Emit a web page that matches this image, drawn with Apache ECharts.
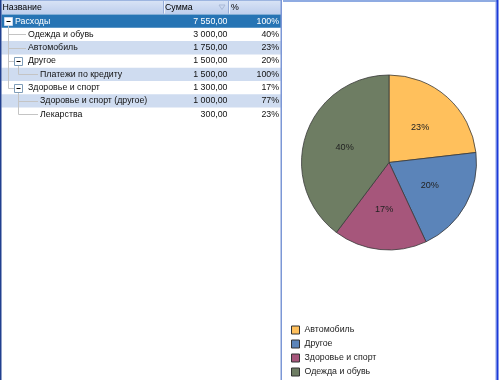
<!DOCTYPE html>
<html><head><meta charset="utf-8">
<script src="https://cdn.jsdelivr.net/npm/echarts@6/dist/echarts.min.js"></script>
<style>html,body{margin:0;padding:0;background:#fff}#c{width:500px;height:380px}</style>
</head><body><div id="c"></div>
<script>
const headerLabels = ['Название', 'Сумма', '%'];
const treeNames = ['Расходы', 'Одежда и обувь', 'Автомобиль', 'Другое', 'Платежи по кредиту', 'Здоровье и спорт', 'Здоровье и спорт (другое)', 'Лекарства'];
const treeLevels = [0, 1, 1, 1, 2, 1, 2, 2];
const treeSums = [7550, 3000, 1750, 1500, 1500, 1300, 1000, 300];
const treePercents = [100, 40, 23, 20, 100, 17, 77, 23];
const pieCategories = ['Автомобиль', 'Другое', 'Здоровье и спорт', 'Одежда и обувь'];
const pieValues = [1750, 1500, 1300, 3000];
const pieColors = ['#ffc05c', '#5b84b9', '#a6567b', '#6e7d63'];

const FS = 8.8;
const FAMILY = '"Liberation Sans", Arial, sans-serif';
const FONT = FS + 'px ' + FAMILY;
const headerH = 14.5, rowH = 13.3, tableRight = 281, colSumX = 163, colPctX = 228;
const boxX = l => 4 + 10 * l;
const textX = l => [15, 28, 40][l];
const rowY = i => headerH + i * rowH;
const rowCY = i => rowY(i) + rowH / 2;

function fmtSum(v) {
  const s = v.toFixed(2).split('.');
  return s[0].replace(/\B(?=(\d{3})+(?!\d))/g, ' ') + ',' + s[1];
}
const hasChildren = i => i + 1 < treeLevels.length && treeLevels[i + 1] > treeLevels[i];

const g = [];
// frame top band of right panel
g.push({type: 'rect', silent: true, shape: {x: 283, y: 0, width: 214, height: 2}, style: {fill: '#8fabe2'}});
// header
g.push({type: 'rect', silent: true, shape: {x: 0, y: 0, width: tableRight, height: headerH},
  style: {fill: new echarts.graphic.LinearGradient(0, 0, 0, 1, [{offset: 0, color: '#d9e4f6'}, {offset: 1, color: '#bccdec'}])}});
g.push({type: 'line', silent: true, shape: {x1: 0, y1: 0.5, x2: tableRight, y2: 0.5}, style: {stroke: '#9db5e0', lineWidth: 1}});
[colSumX, colPctX].forEach(x => {
  g.push({type: 'line', silent: true, shape: {x1: x + 0.5, y1: 1, x2: x + 0.5, y2: headerH - 1}, style: {stroke: '#95acd8', lineWidth: 1}});
  g.push({type: 'line', silent: true, shape: {x1: x + 1.5, y1: 1, x2: x + 1.5, y2: headerH - 1}, style: {stroke: '#eef3fb', lineWidth: 1}});
});
const hx = [2.5, colSumX + 2, colPctX + 3];
headerLabels.forEach((t, k) => {
  g.push({type: 'text', silent: true, x: hx[k], y: headerH / 2, style: {text: t, font: FONT, fill: '#000', textAlign: 'left', textVerticalAlign: 'middle'}});
});
g.push({type: 'polygon', silent: true, shape: {points: [[219, 5], [225, 5], [222, 9.5]]}, style: {fill: 'none', stroke: '#a9b9d6', lineWidth: 1}});

// rows
treeNames.forEach((name, i) => {
  const y = rowY(i), cy = rowCY(i), lv = treeLevels[i];
  const sel = i === 0;
  if (sel) g.push({type: 'rect', silent: true, shape: {x: 1.5, y: y, width: tableRight - 1.5, height: rowH}, style: {fill: '#2674b4'}});
  else if (i % 2 === 0) g.push({type: 'rect', silent: true, shape: {x: 1.5, y: y, width: tableRight - 1.5, height: rowH}, style: {fill: '#cfdcf0'}});
  const col = sel ? '#fff' : '#111';
  g.push({type: 'text', silent: true, x: textX(lv), y: cy, style: {text: name, font: FONT, fill: col, textAlign: 'left', textVerticalAlign: 'middle'}});
  g.push({type: 'text', silent: true, x: 227.5, y: cy, style: {text: fmtSum(treeSums[i]), font: FONT, fill: col, textAlign: 'right', textVerticalAlign: 'middle'}});
  g.push({type: 'text', silent: true, x: 279, y: cy, style: {text: treePercents[i] + '%', font: FONT, fill: col, textAlign: 'right', textVerticalAlign: 'middle'}});
});

// tree lines and boxes
const LINE = '#c4c4c4';
treeNames.forEach((name, i) => {
  const lv = treeLevels[i];
  if (lv > 0) {
    let p = i - 1;
    while (treeLevels[p] !== lv - 1) p--;
    const px = boxX(lv - 1) + 4.5;
    const cy = Math.round(rowCY(i)) + 0.5;
    const endX = hasChildren(i) ? boxX(lv) : textX(lv) - 2;
    g.push({type: 'line', silent: true, shape: {x1: px, y1: cy, x2: endX, y2: cy}, style: {stroke: LINE, lineWidth: 1}});
    let last = i;
    for (let j = i + 1; j < treeLevels.length && treeLevels[j] >= lv; j++) if (treeLevels[j] === lv) last = j;
    if (last === i) {
      g.push({type: 'line', silent: true, shape: {x1: px, y1: Math.round(rowCY(p)) + 4, x2: px, y2: cy}, style: {stroke: LINE, lineWidth: 1}});
    }
  }
});
treeNames.forEach((name, i) => {
  if (!hasChildren(i)) return;
  const lv = treeLevels[i];
  const bx = boxX(lv) + 0.5, by = Math.round(rowCY(i)) - 3.5;
  g.push({type: 'rect', silent: true, shape: {x: bx, y: by, width: 8, height: 8}, style: {fill: '#fff', stroke: i === 0 ? '#c9d8ef' : '#7f9db9', lineWidth: 1}});
  g.push({type: 'line', silent: true, shape: {x1: bx + 2, y1: by + 4, x2: bx + 6, y2: by + 4}, style: {stroke: '#000', lineWidth: 1}});
});

// borders
g.push({type: 'rect', silent: true, shape: {x: 0, y: 0, width: 1.5, height: 380}, style: {fill: '#21408f'}});
g.push({type: 'rect', silent: true, shape: {x: 280.5, y: 0, width: 1.5, height: 380}, style: {fill: '#7c97d6'}});
g.push({type: 'rect', silent: true, shape: {x: 495.5, y: 0, width: 1, height: 380}, style: {fill: '#8aa0e8'}});
g.push({type: 'rect', silent: true, shape: {x: 496.5, y: 0, width: 2, height: 380}, style: {fill: '#1a3ad8'}});

const chart = echarts.init(document.getElementById('c'), null, {renderer: 'canvas'});
chart.setOption({
  animation: false,
  backgroundColor: '#fff',
  color: pieColors,
  graphic: {elements: g},
  legend: {
    orient: 'vertical', left: 291, top: 324, padding: 0,
    itemWidth: 8, itemHeight: 8, itemGap: 2,
    icon: 'rect',
    itemStyle: {borderColor: '#333', borderWidth: 1},
    textStyle: {fontSize: FS, fontFamily: FAMILY, color: '#222', lineHeight: 12},
    data: pieCategories,
    selectedMode: false
  },
  series: [{
    type: 'pie',
    center: [389, 162.5],
    radius: 87.5,
    startAngle: 90,
    clockwise: true,
    emphasis: {disabled: true},
    itemStyle: {borderColor: '#3a3a3a', borderWidth: 0.8},
    label: {
      position: 'inside',
      fontSize: FS + 0.3, fontFamily: FAMILY, color: '#222',
      formatter: p => Math.round(p.percent) + '%'
    },
    labelLine: {show: false},
    data: pieCategories.map((n, k) => ({name: n, value: pieValues[k]}))
  }]
});
</script>
</body></html>
